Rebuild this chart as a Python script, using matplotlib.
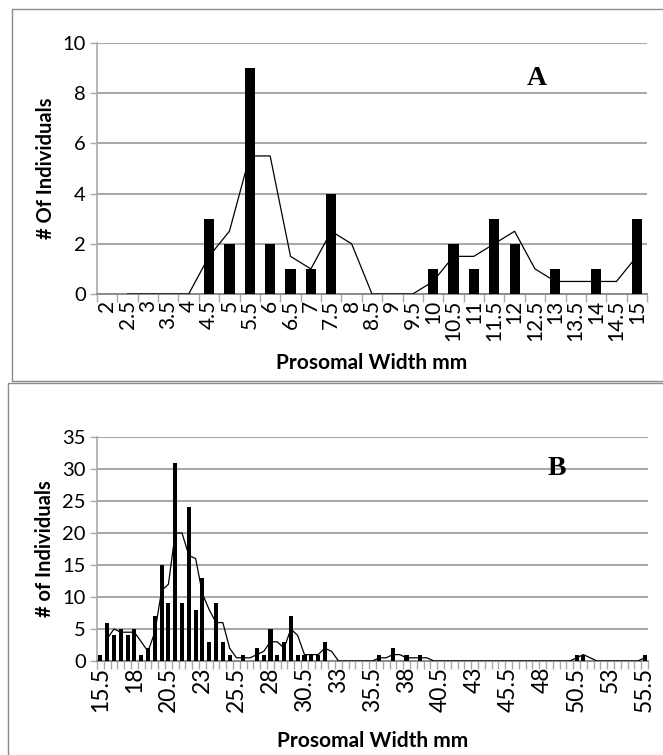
import numpy as np
import pandas as pd
import matplotlib.pyplot as plt
from matplotlib.patches import Rectangle
from matplotlib.ticker import MultipleLocator, FixedLocator

plt.rcParams['font.family'] = ['Lato', 'DejaVu Sans']

# Panel A: prosomal width classes (mm) and counts
widths_a = [2, 2.5, 3, 3.5, 4, 4.5, 5, 5.5, 6, 6.5, 7, 7.5, 8, 8.5, 9, 9.5,
            10, 10.5, 11, 11.5, 12, 12.5, 13, 13.5, 14, 14.5, 15]
counts_a = [0, 0, 0, 0, 0, 3, 2, 9, 2, 1, 1, 4, 0, 0, 0, 0,
            1, 2, 1, 3, 2, 0, 1, 0, 1, 0, 3]

# Panel B: prosomal width classes 15.5 - 55.5 mm and counts
widths_b = [15.5 + 0.5 * k for k in range(81)]
counts_b = [1, 6, 4, 5, 4, 5, 1, 2, 7, 15,
            9, 31, 9, 24, 8, 13, 3, 9, 3, 1,
            0, 1, 0, 2, 1, 5, 1, 3, 7, 1,
            1, 1, 1, 3, 0, 0, 0, 0, 0, 0,
            0, 1, 0, 2, 0, 1, 0, 1, 0, 0,
            0, 0, 0, 0, 0, 0, 0, 0, 0, 0,
            0, 0, 0, 0, 0, 0, 0, 0, 0, 0,
            1, 1, 0, 0, 0, 0, 0, 0, 0, 0,
            1]

W, H = 663, 755
fig = plt.figure(figsize=(W / 100, H / 100), dpi=100)

# panel frames
fig.add_artist(Rectangle((12 / W, 1 - 381 / H), 700 / W, 372 / H,
                         transform=fig.transFigure, fill=False,
                         edgecolor='#8c8c8c', lw=1.0))
fig.add_artist(Rectangle((8 / W, -0.05), 700 / W, 1 - 383 / H + 0.05,
                         transform=fig.transFigure, fill=False,
                         edgecolor='#8c8c8c', lw=1.0))

grid_c = '#a9a9a9'


def style_axes(ax, labels, counts, step, ymax, ystep, ylabel, letter,
               lx, ly, barw, xfs, xlabel_y):
    n = len(labels)
    x = np.arange(n)
    ax.bar(x, counts, width=barw, color='black', zorder=3)
    ma = pd.Series(counts).rolling(2).mean()
    ax.plot(x, ma, color='black', lw=0.9, zorder=4)

    ax.set_xlim(-0.5, n - 0.5)
    ax.set_ylim(0, ymax)
    ax.yaxis.set_major_locator(MultipleLocator(ystep))
    ax.grid(axis='y', color=grid_c, lw=1.5, zorder=0)
    ax.set_axisbelow(True)

    ticks = x[::step]
    ax.set_xticks(ticks)
    ax.set_xticklabels([f'{v:g}' for v in np.array(labels)[::step]],
                       rotation=90, fontsize=xfs)
    ax.xaxis.set_minor_locator(FixedLocator(np.arange(n + 1) - 0.5))
    ax.tick_params(axis='x', which='major', length=0, pad=4)
    ax.tick_params(axis='x', which='minor', length=6, color=grid_c, width=1)
    ax.tick_params(axis='y', length=5, color=grid_c, width=1, labelsize=14.5,
                   pad=3)

    for s in ('top', 'right'):
        ax.spines[s].set_visible(False)
    ax.spines['left'].set_color(grid_c)
    ax.spines['bottom'].set_color('#8c8c8c')
    ax.spines['left'].set_linewidth(1.2)
    ax.spines['bottom'].set_linewidth(1.4)

    ax.set_xlabel('Prosomal Width mm', fontsize=15, fontweight='bold')
    ax.xaxis.set_label_coords(0.5, xlabel_y)
    ax.set_ylabel(ylabel, fontsize=14.5, fontweight='bold', labelpad=5)
    ax.text(lx, ly, letter, transform=ax.transAxes, fontsize=20,
            fontweight='bold', family='Liberation Serif',
            ha='center', va='center')


ax_a = fig.add_axes([97 / W, 1 - 294 / H, 550 / W, 251 / H])
style_axes(ax_a, widths_a, counts_a, 1, 10, 2, '# Of Individuals', 'A',
           0.80, 0.86, 0.5, 15, -(353 - 294) / 251)

ax_b = fig.add_axes([97 / W, 1 - 661 / H, 551 / W, 224 / H])
style_axes(ax_b, widths_b, counts_b, 5, 35, 5, '# of Individuals', 'B',
           0.835, 0.86, 0.6, 16.5, -(731 - 661) / 224)

fig.savefig('out.png', dpi=100)
